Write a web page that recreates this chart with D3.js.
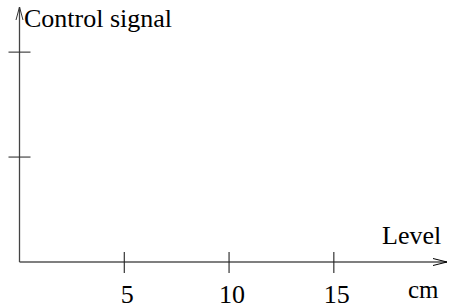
<!DOCTYPE html>
<html>
<head>
<meta charset="utf-8">
<script src="https://cdn.jsdelivr.net/npm/d3@7"></script>
<style>
  body { margin: 0; background: #fff; }
</style>
</head>
<body>
<svg id="chart"></svg>
<script>
// axis values
const xTicks = [5, 10, 15];
const xTickLabels = ['5', '10', '15'];
const yTicks = [1, 2];
const xUnitLabel = 'cm';
const xAxisTitle = 'Level';
const yAxisTitle = 'Control signal';
const xDomain = [0, 20.4];
const yDomain = [0, 2.43];

const width = 449, height = 307;
const origin = { x: 19.5, y: 262 };
const font = "'Liberation Serif'";
const fontSize = 26;

const svg = d3.select('#chart')
    .attr('width', width)
    .attr('height', height);

const xScale = d3.scaleLinear().domain(xDomain).range([origin.x, 447]);
const yScale = d3.scaleLinear().domain(yDomain).range([origin.y, 7]);

// x axis line with open arrow head
const xEnd = xScale(xDomain[1]);
svg.append('line')
    .attr('x1', origin.x).attr('y1', origin.y)
    .attr('x2', xEnd).attr('y2', origin.y)
    .attr('stroke', '#000').attr('stroke-width', 1.1);
svg.append('path')
    .attr('d', `M${xEnd - 14},${origin.y - 3.5} L${xEnd},${origin.y} L${xEnd - 14},${origin.y + 3.5}`)
    .attr('fill', 'none').attr('stroke', '#000').attr('stroke-width', 1);

// y axis line with arrow
const yEnd = yScale(yDomain[1]);
svg.append('line')
    .attr('x1', origin.x).attr('y1', origin.y)
    .attr('x2', origin.x).attr('y2', yEnd)
    .attr('stroke', '#444').attr('stroke-width', 1.3);
svg.append('path')
    .attr('d', `M${origin.x - 3.5},${yEnd + 13} L${origin.x},${yEnd} L${origin.x + 3.5},${yEnd + 13}`)
    .attr('fill', 'none').attr('stroke', '#333').attr('stroke-width', 1);

// ticks crossing the axes
svg.selectAll('.x-tick')
    .data(xTicks)
    .join('line')
    .attr('class', 'x-tick')
    .attr('x1', d => xScale(d)).attr('x2', d => xScale(d))
    .attr('y1', origin.y - 10).attr('y2', origin.y + 11)
    .attr('stroke', '#222').attr('stroke-width', 1.1);

svg.selectAll('.y-tick')
    .data(yTicks)
    .join('line')
    .attr('class', 'y-tick')
    .attr('y1', d => yScale(d)).attr('y2', d => yScale(d))
    .attr('x1', origin.x - 11).attr('x2', origin.x + 11)
    .attr('stroke', '#333').attr('stroke-width', 1.1);

// tick labels (sit a little right of their ticks, as in the original)
svg.selectAll('.x-label')
    .data(xTicks)
    .join('text')
    .attr('class', 'x-label')
    .attr('x', d => xScale(d) + 3)
    .attr('y', 303)
    .attr('text-anchor', 'middle')
    .attr('font-family', font)
    .attr('font-size', fontSize)
    .text((d, i) => xTickLabels[i]);

svg.append('text')
    .attr('x', 408)
    .attr('y', 298)
    .attr('font-family', font)
    .attr('font-size', 25)
    .text(xUnitLabel);

svg.append('text')
    .attr('x', 382)
    .attr('y', 244)
    .attr('font-family', font)
    .attr('font-size', fontSize)
    .text(xAxisTitle);

svg.append('text')
    .attr('x', 24)
    .attr('y', 27)
    .attr('font-family', font)
    .attr('font-size', fontSize)
    .text(yAxisTitle);
</script>
</body>
</html>
